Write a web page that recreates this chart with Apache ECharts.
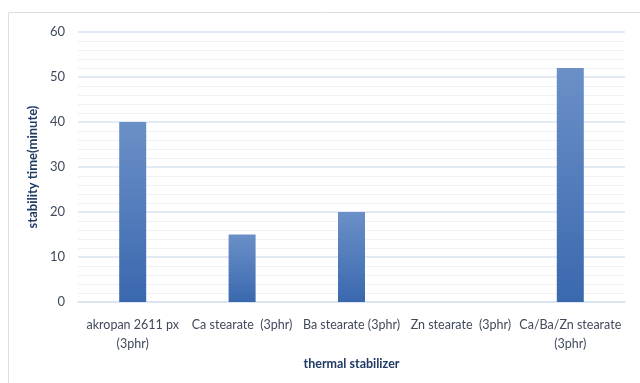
<!DOCTYPE html>
<html><head><meta charset="utf-8">
<script src="https://cdn.jsdelivr.net/npm/echarts@6/dist/echarts.min.js"></script>
<style>html,body{margin:0;padding:0;background:#fff}#c{width:640px;height:383px}</style>
</head><body><div id="c"></div>
<script>
const categories = ['akropan 2611 px\n(3phr)', 'Ca stearate  (3phr)', 'Ba stearate (3phr)', 'Zn stearate  (3phr)', 'Ca/Ba/Zn stearate\n(3phr)'];
const stabilityTime = [40, 15, 20, 0, 52];
const yTicks = [0, 10, 20, 30, 40, 50, 60];
const xTitle = 'thermal stabilizer';
const yTitle = 'stability time(minute)';

const font = 'Lato, "Open Sans", sans-serif';
const chart = echarts.init(document.getElementById('c'), null, {renderer: 'canvas'});
chart.setOption({
  backgroundColor: '#fff',
  animation: false,
  graphic: [{type: 'rect', shape: {x: 8.5, y: 12.5, width: 700, height: 420}, style: {fill: 'none', stroke: '#dcdfe4', lineWidth: 1}, z: -1}],
  grid: {left: 78, right: 15, top: 32, bottom: 81},
  xAxis: {
    type: 'category', data: categories,
    axisLine: {lineStyle: {color: '#d9e3f0', width: 1.5}},
    axisTick: {show: false},
    axisLabel: {color: '#404a5c', fontFamily: font, fontSize: 12.5, interval: 0, margin: 13, lineHeight: 19},
    name: xTitle, nameLocation: 'middle', nameGap: 55,
    nameTextStyle: {color: '#1f3a64', fontFamily: font, fontSize: 12.5, fontWeight: 'bold'}
  },
  yAxis: {
    type: 'value', min: yTicks[0], max: yTicks[yTicks.length - 1], interval: 10,
    axisLine: {show: false}, axisTick: {show: false},
    axisLabel: {color: '#404a5c', fontFamily: font, fontSize: 13, margin: 13},
    splitLine: {lineStyle: {color: '#d9e3f1', width: 1.5}},
    minorTick: {show: false, splitNumber: 5},
    minorSplitLine: {show: true, lineStyle: {color: '#eef2f8', width: 1}},
    name: yTitle, nameLocation: 'middle', nameGap: 36, nameRotate: 90,
    nameTextStyle: {color: '#1f3a64', fontFamily: font, fontSize: 13, fontWeight: 'bold'}
  },
  series: [{
    type: 'bar', data: stabilityTime, barWidth: 27,
    itemStyle: {
      color: new echarts.graphic.LinearGradient(0, 0, 0, 1, [
        {offset: 0, color: '#6b90c8'}, {offset: 1, color: '#3a68ae'}
      ]),
      borderWidth: 0
    }
  }]
});
</script></body></html>
